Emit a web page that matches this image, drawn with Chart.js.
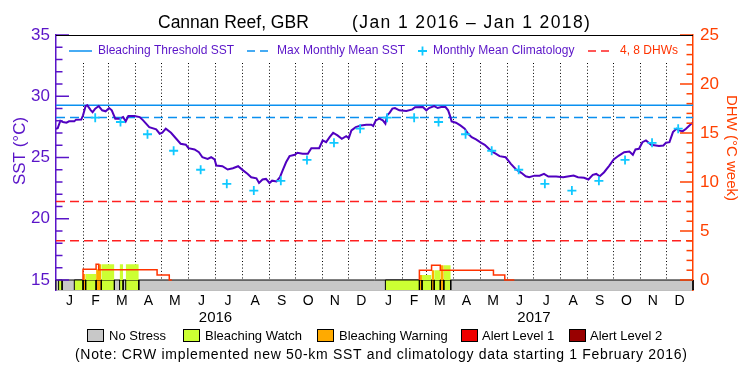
<!DOCTYPE html>
<html><head><meta charset="utf-8">
<script src="https://cdn.jsdelivr.net/npm/chart.js@4.4.0/dist/chart.umd.min.js"></script>
<style>html,body{margin:0;padding:0;background:#fff}#wrap{width:750px;height:375px;position:relative}</style>
</head><body><div id="wrap"><canvas id="c" width="750" height="375"></canvas></div>
<script>
// ---------- DATA (days since 1 Jan 2016) ----------
const sstDay = [
  0,2,5,8,12,15,21,23,29,31,
  34,36,40,42,45,49,53,57,61,64,
  68,73,77,80,83,90,96,100,107,115,
  119,122,126,132,138,143,149,152,159,164,
  168,174,178,182,184,191,197,203,209,215,
  220,224,230,233,237,241,245,248,253,257,
  260,264,268,274,277,283,289,293,302,306,
  310,314,318,323,328,333,336,339,344,350,
  356,362,364,367,371,375,378,380,383,386,
  389,394,402,409,412,421,425,428,434,438,
  442,447,450,452,454,459,464,469,473,477,
  482,488,492,495,500,505,509,516,522,528,
  534,539,543,549,555,560,565,574,582,587,
  594,599,606,611,616,620,624,629,635,640,
  646,652,658,662,665,669,673,677,683,692,
  697,700,704,708,712,715,719,723,729,731];
const sstValue = [
  27.35,27.4,28.0,27.9,27.84,27.95,27.95,28.09,28.1,28.44,
  29.2,29.26,28.85,28.7,28.99,29.2,28.85,28.77,29.04,28.85,
  28.17,28.17,28.3,27.95,28.39,28.39,28.3,28.03,27.48,27.3,
  26.94,27.02,27.35,27.02,26.53,26.12,26.04,25.76,25.66,25.43,
  25.02,24.89,25.02,24.84,24.34,24.29,24.02,24.12,24.29,23.93,
  23.66,23.39,23.3,22.92,23.2,23.25,22.92,23.11,23.05,23.39,
  23.93,24.61,25.11,25.22,25.39,25.3,25.3,25.76,25.76,26.39,
  26.25,26.66,27.02,26.8,26.53,26.74,26.58,27.21,27.48,27.62,
  27.68,27.68,27.57,28.03,28.17,28.03,27.76,28.44,28.66,28.99,
  29.04,28.85,28.8,28.93,29.1,29.12,28.85,29.04,29.2,29.04,
  29.12,29.12,28.85,28.44,27.95,27.84,27.62,27.35,26.94,26.66,
  26.48,26.2,26.04,25.84,25.49,25.3,25.11,25.02,24.48,24.02,
  23.75,23.47,23.39,23.52,23.52,23.66,23.44,23.44,23.39,23.44,
  23.52,23.39,23.34,23.2,23.58,23.66,23.47,23.8,24.34,24.84,
  25.16,25.43,25.49,25.22,25.66,25.71,26.25,26.39,26.04,25.93,
  25.98,26.2,26.25,27.07,27.35,27.21,27.13,27.35,27.76,27.84];

// Monthly mean climatology (Jan..Dec), shown from Feb 2016 (new climatology)
const climMonthly = [28.25,28.25,27.9,26.9,25.55,24.0,22.85,22.3,23.1,24.8,26.2,27.35];
const climFirstMonth = 1; // Feb 2016
const mmmSST = 28.27;        // Max Monthly Mean
const thresholdSST = 29.27;  // Bleaching threshold
const dhwRefLines = [4, 8];

// Degree heating weeks (step changes)
const dhwDay   = [31,46,49,116,130,133, 417,431,441,502,515,526];
const dhwValue = [0.6,1.1,1.6,1.05,0.5,0, 0.5,1.0,1.5,1.0,0.5,0];

// Bleaching stress periods (1 = Watch, 2 = Warning)
const stressStart = [3,21,31,34,46,52,73,80, 378,417,420,431,434,441,445];
const stressEnd   = [7,31,34,46,52,67,77,95, 417,420,431,434,441,445,453];
const stressLevel = [1,1,2,1,2,1,1,1, 1,2,1,2,1,2,1];

const monthLetters = ['J','F','M','A','M','J','J','A','S','O','N','D'];
const yearLabels = ['2016','2017'];
const sstTicks = [15,20,25,30,35];
const dhwTicks = [0,5,10,15,20,25];
const legendNames = ['No Stress','Bleaching Watch','Bleaching Warning','Alert Level 1','Alert Level 2'];

// ---------- helpers ----------
const FONT = '"Liberation Sans", Arial, sans-serif';
const PURPLE = '#5a14c8', LINE_PURPLE = '#5000c0', ORANGE = '#ff4000', BLUE = '#0a90f0', CYAN = '#10c8ff', RED = '#ff2020';
const stressColors = ['#c8c8c8','#ccff33','#ffaa00','#ee0000','#990000'];
const D0 = Date.UTC(2016,0,1);
const dayOf = (y,m,d) => (Date.UTC(y,m,d)-D0)/864e5;
const END = dayOf(2018,0,1);
const monthStarts = [];
for (const y of [2016,2017]) for (let m=0;m<12;m++) monthStarts.push(dayOf(y,m,1));
const monthMids = monthStarts.map((d,i)=> (d + (i<23?monthStarts[i+1]:END))/2);
const yearMids = [ (0+dayOf(2017,0,1))/2, (dayOf(2017,0,1)+END)/2 ];
const SST_MIN = 35 - 20*255/245, DHW_MIN = 25 - 25*255/245;

function dhwAt(d){ let v=0; for(let i=0;i<dhwDay.length;i++){ if(dhwDay[i]<=d) v=dhwValue[i]; } return v; }

// DHW step line points
const dhwPts = [];
for (let i=0;i<dhwDay.length;i++){
  if (i===0 || dhwValue[i-1]===0){ if(i>0) dhwPts.push({x:(dhwDay[i-1]+dhwDay[i])/2,y:null}); dhwPts.push({x:dhwDay[i],y:0}); }
  dhwPts.push({x:dhwDay[i],y:dhwValue[i]});
}

const datasets = [];
// gray no-stress band
datasets.push({data:[{x:0,y:DHW_MIN},{x:0,y:0},{x:END,y:0},{x:END,y:DHW_MIN}], yAxisID:'yR',
  backgroundColor:stressColors[0], borderColor:'#000', borderWidth:1, fill:'start', pointRadius:0, order:100, clip:false});
// stress segments in band + fill under DHW curve
for (let i=0;i<stressStart.length;i++){
  const a=stressStart[i], b=stressEnd[i], c=stressColors[stressLevel[i]];
  datasets.push({data:[{x:a,y:DHW_MIN},{x:a,y:0},{x:b,y:0},{x:b,y:DHW_MIN}], yAxisID:'yR',
    backgroundColor:c, borderColor:'#000', borderWidth:1, fill:'start', pointRadius:0, order:90, clip:false});
  const pts=[{x:a,y:0},{x:a,y:dhwAt(a)}];
  dhwDay.forEach((d)=>{ if(d>a && d<b){ pts.push({x:d,y:dhwAt(d-1e-6)}); pts.push({x:d,y:dhwAt(d)}); } });
  pts.push({x:b,y:dhwAt(b-1e-6)}); pts.push({x:b,y:0});
  if (pts.some(p=>p.y>0))
    datasets.push({data:pts, yAxisID:'yR', backgroundColor:c, borderWidth:0, borderColor:'rgba(0,0,0,0)', fill:'origin', pointRadius:0, order:85});
}
dhwRefLines.forEach(v=> datasets.push({data:[{x:0,y:v},{x:END,y:v}], yAxisID:'yR', borderColor:RED, borderWidth:1.5, borderDash:[9,5], pointRadius:0, fill:false, order:70}));
datasets.push({data:[{x:0,y:mmmSST},{x:END,y:mmmSST}], yAxisID:'y', borderColor:BLUE, borderWidth:1.5, borderDash:[9,5], pointRadius:0, fill:false, order:60});
datasets.push({data:[{x:0,y:thresholdSST},{x:END,y:thresholdSST}], yAxisID:'y', borderColor:BLUE, borderWidth:1.5, pointRadius:0, fill:false, order:55});
datasets.push({data:dhwPts, yAxisID:'yR', borderColor:'#ff3300', borderWidth:1.5, stepped:'after', spanGaps:false, pointRadius:0, fill:false, order:50});
datasets.push({data:sstDay.map((d,i)=>({x:d,y:sstValue[i]})), yAxisID:'y', borderColor:LINE_PURPLE, borderWidth:2, pointRadius:0, fill:false, tension:0, order:20});
const climPts = [];
for (let k=climFirstMonth;k<24;k++){ const y=2016+Math.floor(k/12), m=k%12; climPts.push({x:dayOf(y,m,15), y:climMonthly[m]}); }
datasets.push({data:climPts, yAxisID:'y', showLine:false, pointStyle:'cross', pointRadius:4.5, pointBorderColor:CYAN, pointBorderWidth:1.8, order:10});

function spaced(ctx, px){ if ('letterSpacing' in ctx) ctx.letterSpacing = px+'px'; }

const overlay = {
  id:'overlay',
  beforeDatasetsDraw(chart){
    const {ctx, chartArea:a, scales:{x, yR}} = chart;
    ctx.save(); ctx.strokeStyle='#000'; ctx.lineWidth=1; ctx.setLineDash([1,2.3]);
    const yTop=a.top+28, yBot=yR.getPixelForValue(0);
    monthStarts.forEach(d=>{ if(d<=0) return; const px=Math.round(x.getPixelForValue(d))+0.5;
      ctx.beginPath(); ctx.moveTo(px,yTop); ctx.lineTo(px,yBot); ctx.stroke(); });
    ctx.restore();
  },
  afterDatasetsDraw(chart){
    const {ctx, chartArea:a, scales:{y, yR}} = chart;
    ctx.save(); ctx.lineWidth=1.5;
    ctx.strokeStyle=PURPLE;
    for (let v=15; v<=35; v++){ const py=y.getPixelForValue(v); const L=(v%5===0)?13:6.5;
      ctx.beginPath(); ctx.moveTo(a.left,py); ctx.lineTo(a.left+L,py); ctx.stroke(); }
    ctx.strokeStyle=ORANGE;
    for (let v=0; v<=25; v++){ const py=yR.getPixelForValue(v); const L=(v%5===0)?13:6.5;
      ctx.beginPath(); ctx.moveTo(a.right,py); ctx.lineTo(a.right-L,py); ctx.stroke(); }
    ctx.strokeStyle='#000'; ctx.lineWidth=1.2;
    ctx.beginPath(); ctx.moveTo(a.left,a.top+0.5); ctx.lineTo(a.right,a.top+0.5); ctx.stroke();
    // top legend
    const ly=51;
    ctx.lineWidth=1.5; ctx.strokeStyle=BLUE;
    ctx.beginPath(); ctx.moveTo(69,ly); ctx.lineTo(92,ly); ctx.stroke();
    ctx.setLineDash([8,5]); ctx.beginPath(); ctx.moveTo(247,ly); ctx.lineTo(270,ly); ctx.stroke();
    ctx.strokeStyle=RED; ctx.beginPath(); ctx.moveTo(588,ly); ctx.lineTo(612,ly); ctx.stroke();
    ctx.setLineDash([]); ctx.strokeStyle=CYAN; ctx.lineWidth=1.8;
    ctx.beginPath(); ctx.moveTo(418,ly); ctx.lineTo(427,ly); ctx.moveTo(422.5,ly-4.5); ctx.lineTo(422.5,ly+4.5); ctx.stroke();
    ctx.font='12px '+FONT; ctx.textBaseline='middle'; ctx.textAlign='left';
    ctx.fillStyle=PURPLE;
    ctx.fillText('Bleaching Threshold SST',98,ly);
    ctx.fillText('Max Monthly Mean SST',277,ly);
    ctx.fillText('Monthly Mean Climatology',433,ly);
    ctx.fillStyle='#ff3300'; ctx.fillText('4, 8 DHWs',620,ly);
    ctx.restore();
  },
  afterDraw(chart){
    const {ctx} = chart;
    ctx.save();
    ctx.fillStyle='#000'; ctx.textBaseline='middle'; ctx.textAlign='left';
    ctx.font='17.5px '+FONT;
    ctx.fillText('Cannan Reef, GBR',158,23);
    spaced(ctx,1.4);
    ctx.fillText('(Jan 1 2016 \u2013 Jan 1 2018)',352,23);
    spaced(ctx,0);
    // bottom legend
    const bx=[87,183,317,461,569], tx=[109,205,339,482,590];
    ctx.font='13px '+FONT; ctx.lineWidth=1; ctx.strokeStyle='#000';
    for (let i=0;i<5;i++){
      ctx.fillStyle=stressColors[i]; ctx.fillRect(bx[i],329,16,12);
      ctx.strokeRect(bx[i]+0.5,329.5,16,12);
      ctx.fillStyle='#000'; ctx.fillText(legendNames[i],tx[i],336);
    }
    ctx.font='14px '+FONT; ctx.textAlign='left';
    spaced(ctx,0.68);
    ctx.fillText('(Note: CRW implemented new 50-km SST and climatology data starting 1 February 2016)',75,355);
    spaced(ctx,0);
    // axis titles
    ctx.textAlign='center';
    ctx.font='17px '+FONT; ctx.fillStyle=PURPLE;
    ctx.translate(20,151); ctx.rotate(-Math.PI/2); ctx.fillText('SST (\u00b0C)',0,0);
    ctx.setTransform(1,0,0,1,0,0);
    ctx.fillStyle=ORANGE; ctx.font='15px '+FONT;
    ctx.translate(731,148); ctx.rotate(Math.PI/2); ctx.fillText('DHW (\u00b0C week)',0,0);
    ctx.restore();
  }
};

new Chart(document.getElementById('c'), {
  type:'line',
  data:{datasets},
  options:{
    responsive:false, animation:false, devicePixelRatio:1,
    layout:{padding:{top:35,left:0,right:0,bottom:45}},
    plugins:{legend:{display:false}, tooltip:{enabled:false}, title:{display:false}},
    scales:{
      x:{type:'linear', position:'bottom', min:0, max:END,
        afterBuildTicks:s=>{s.ticks=monthMids.map(v=>({value:v}));},
        ticks:{callback:(v,i)=>monthLetters[i%12], autoSkip:false, maxRotation:0, color:'#000', font:{family:FONT,size:14}, padding:3},
        grid:{display:true, drawOnChartArea:false, drawTicks:false}, border:{color:'#000',width:1.2},
        afterFit:s=>{s.height=18;}},
      x2:{type:'linear', position:'bottom', min:0, max:END,
        afterBuildTicks:s=>{s.ticks=yearMids.map(v=>({value:v}));},
        ticks:{callback:(v,i)=>yearLabels[i], autoSkip:false, maxRotation:0, color:'#000', font:{family:FONT,size:15}, padding:1},
        grid:{display:false, drawTicks:false}, border:{display:false},
        afterFit:s=>{s.height=22;}},
      y:{type:'linear', position:'left', min:SST_MIN, max:35,
        afterBuildTicks:s=>{s.ticks=sstTicks.map(v=>({value:v}));},
        ticks:{color:PURPLE, font:{family:FONT,size:17}, padding:6},
        grid:{display:true, drawOnChartArea:false, drawTicks:false}, border:{color:PURPLE,width:1.5},
        afterFit:s=>{s.width=56;}},
      yR:{type:'linear', position:'right', min:DHW_MIN, max:25,
        afterBuildTicks:s=>{s.ticks=dhwTicks.map(v=>({value:v}));},
        ticks:{color:ORANGE, font:{family:FONT,size:17}, padding:7},
        grid:{display:true, drawOnChartArea:false, drawTicks:false}, border:{color:ORANGE,width:1.5},
        afterFit:s=>{s.width=57;}}
    }
  },
  plugins:[overlay]
});
</script></body></html>
